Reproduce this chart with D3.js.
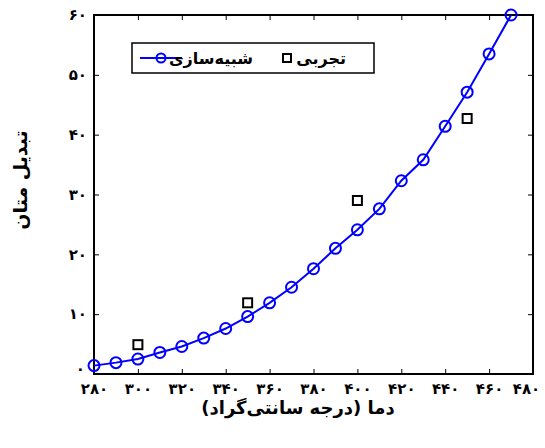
<!DOCTYPE html>
<html><head><meta charset="utf-8">
<script src="https://cdn.jsdelivr.net/npm/d3@7"></script>
<style>
html,body{margin:0;padding:0;background:#fff;}
svg text{font-family:"DejaVu Sans",sans-serif;font-weight:bold;fill:#000;}
</style></head>
<body><svg id="c" width="545" height="448"></svg>
<script>
const simTemps = [280,290,300,310,320,330,340,350,360,370,380,390,400,410,420,430,440,450,460,470];
const simValues = [1.4,1.9,2.5,3.6,4.6,6.0,7.6,9.6,11.9,14.5,17.6,21.0,24.1,27.6,32.3,35.8,41.4,47.1,53.5,60.0];
const expTemps = [300,350,400,450];
const expValues = [4.9,11.9,29.0,42.7];
const xTicks = [280,300,320,340,360,380,400,420,440,460,480];
const yTicks = [0,10,20,30,40,50,60];
const xLabel = "دما (درجه سانتی‌گراد)";
const yLabel = "تبدیل متان";
const simName = "شبیه‌سازی";
const expName = "تجربی";

const fa = n => String(n).replace(/[0-9]/g, d => "۰۱۲۳۴۵۶۷۸۹"[d]);

const L = 94, R = 533, T = 15, B = 374;
const x = d3.scaleLinear().domain([280,480]).range([L,R]);
const y = d3.scaleLinear().domain([0,60]).range([B,T]);
const svg = d3.select("#c");

// ticks (inward, all four sides)
const tl = 5;
const ax = svg.append("g");
const xb = ax.append("g").attr("transform",`translate(0,${B})`)
  .call(d3.axisBottom(x).tickValues(xTicks).tickSize(-tl).tickPadding(9).tickFormat(fa));
ax.append("g").attr("transform",`translate(0,${T})`)
  .call(d3.axisTop(x).tickValues(xTicks).tickSize(-tl).tickFormat(""));
const yl = ax.append("g").attr("transform",`translate(${L},0)`)
  .call(d3.axisLeft(y).tickValues(yTicks).tickSize(-tl).tickPadding(7).tickFormat(fa));
ax.append("g").attr("transform",`translate(${R},0)`)
  .call(d3.axisRight(y).tickValues(yTicks).tickSize(-tl).tickFormat(""));
ax.selectAll(".domain").remove();
ax.selectAll(".tick line").attr("stroke","#000").attr("stroke-width",1);
ax.selectAll(".tick text").style("font-size","15px").style("font-family","'DejaVu Sans',sans-serif").style("font-weight","bold");
xb.selectAll(".tick text").filter(d => d === 480).attr("dx", -7);
yl.selectAll(".tick text").filter(d => d === 0).attr("dy", "-0.05em").attr("dx", -2);

// frame
svg.append("rect").attr("x",L).attr("y",T).attr("width",R-L).attr("height",B-T)
  .attr("fill","none").attr("stroke","#000").attr("stroke-width",2);

// simulation line
const sim = simTemps.map((t,i)=>({t,v:simValues[i]}));
svg.append("path").datum(sim)
  .attr("d", d3.line().x(d=>x(d.t)).y(d=>y(d.v)))
  .attr("fill","none").attr("stroke","#0000ff").attr("stroke-width",2);
svg.selectAll("circle.sim").data(sim).enter().append("circle")
  .attr("cx",d=>x(d.t)).attr("cy",d=>y(d.v)).attr("r",5.5)
  .attr("fill","none").attr("stroke","#0000ff").attr("stroke-width",2);

// experimental
const ex = expTemps.map((t,i)=>({t,v:expValues[i]}));
const s = 9;
svg.selectAll("rect.exp").data(ex).enter().append("rect")
  .attr("x",d=>x(d.t)-s/2).attr("y",d=>y(d.v)-s/2).attr("width",s).attr("height",s)
  .attr("fill","none").attr("stroke","#000").attr("stroke-width",2);

// legend
const lg = svg.append("g");
lg.append("rect").attr("x",132).attr("y",43).attr("width",242).attr("height",30)
  .attr("fill","#fff").attr("stroke","#000").attr("stroke-width",1.5);
lg.append("line").attr("x1",140).attr("x2",182).attr("y1",58).attr("y2",58)
  .attr("stroke","#0000ff").attr("stroke-width",2);
lg.append("circle").attr("cx",161).attr("cy",58).attr("r",4.5)
  .attr("fill","none").attr("stroke","#0000ff").attr("stroke-width",2);
lg.append("text").attr("x",253).attr("y",64).attr("text-anchor","end").style("font-size","16px").text(simName);
lg.append("rect").attr("x",283).attr("y",54).attr("width",8).attr("height",8)
  .attr("fill","none").attr("stroke","#000").attr("stroke-width",2);
lg.append("text").attr("x",346).attr("y",64).attr("text-anchor","end").style("font-size","16px").text(expName);

// axis labels
svg.append("text").attr("x",298).attr("y",414).attr("text-anchor","middle")
  .style("font-size","18px").text(xLabel);
svg.append("text").attr("transform","translate(27,180) rotate(-90)").attr("text-anchor","middle")
  .style("font-size","19px").text(yLabel);
</script></body></html>
